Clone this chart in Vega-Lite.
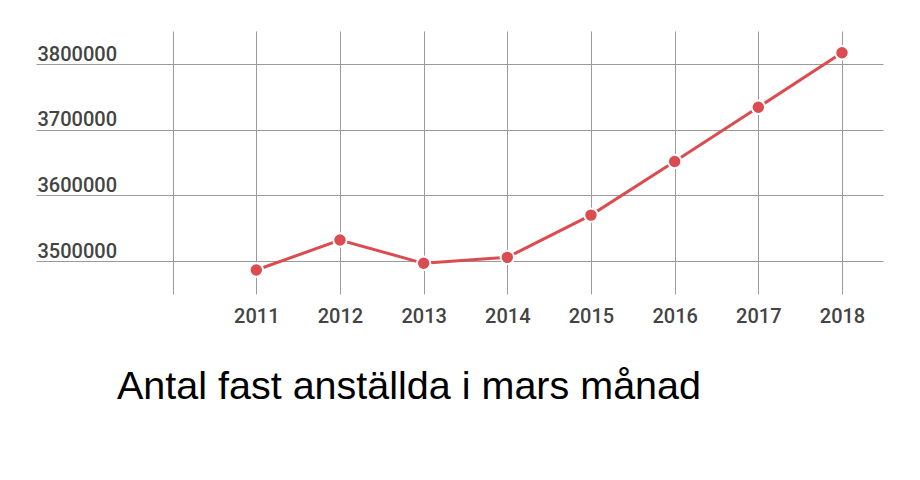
{
  "$schema": "https://vega.github.io/schema/vega-lite/v6.json",
  "width": 847,
  "height": 263,
  "autosize": {"type": "none"},
  "padding": {"left": 36, "top": 31, "right": 37, "bottom": 186},
  "background": "white",
  "title": {
    "text": "Antal fast anställda i mars månad",
    "orient": "bottom",
    "anchor": "start",
    "frame": "group",
    "dx": 81,
    "offset": 42,
    "font": "Liberation Sans",
    "fontSize": 39.5,
    "fontWeight": "normal",
    "color": "#000000"
  },
  "data": {
    "values": [
      {"year": 2011, "value": 3486300},
      {"year": 2012, "value": 3532000},
      {"year": 2013, "value": 3496500},
      {"year": 2014, "value": 3505600},
      {"year": 2015, "value": 3570100},
      {"year": 2016, "value": 3651800},
      {"year": 2017, "value": 3734600},
      {"year": 2018, "value": 3817700}
    ]
  },
  "config": {
    "view": {"stroke": null},
    "axis": {
      "labelFont": "Roboto",
      "labelFontSize": 20,
      "labelFontWeight": 500,
      "labelColor": "#444444",
      "gridColor": "#9a9a9a",
      "gridOpacity": 1,
      "gridWidth": 1,
      "domain": false,
      "ticks": false,
      "tickSize": 0,
      "title": null,
      "labelOverlap": false,
      "labelFlush": false
    }
  },
  "layer": [
    {
      "mark": {"type": "line", "color": "#db4c50", "strokeWidth": 3},
      "encoding": {
        "x": {
          "field": "year",
          "type": "quantitative",
          "scale": {"domain": [2008.367, 2018.49], "nice": false, "zero": false},
          "axis": {
            "values": [2010, 2011, 2012, 2013, 2014, 2015, 2016, 2017, 2018],
            "labelExpr": "datum.value == 2010 ? '' : format(datum.value, 'd')",
            "labelPadding": 12,
            "grid": true
          }
        },
        "y": {
          "field": "value",
          "type": "quantitative",
          "scale": {"domain": [3449700, 3851000], "nice": false, "zero": false},
          "axis": {
            "values": [3500000, 3600000, 3700000, 3800000],
            "format": "d",
            "labelAlign": "left",
            "labelBaseline": "alphabetic",
            "labelPadding": -1,
            "labelOffset": -4,
            "grid": true
          }
        }
      }
    },
    {
      "mark": {"type": "point", "filled": true, "color": "#db4c50", "size": 180, "stroke": "white", "strokeWidth": 2, "opacity": 1},
      "encoding": {
        "x": {"field": "year", "type": "quantitative"},
        "y": {"field": "value", "type": "quantitative"}
      }
    }
  ]
}
